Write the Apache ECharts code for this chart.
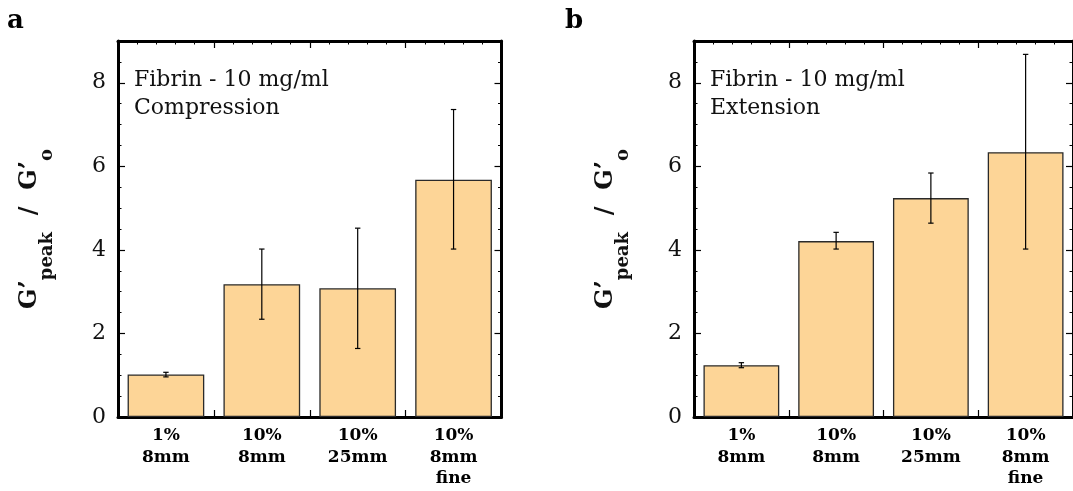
<!DOCTYPE html>
<html>
<head>
<meta charset="utf-8">
<script src="https://cdn.jsdelivr.net/npm/echarts@6/dist/echarts.min.js"></script>
<style>
html,body{margin:0;padding:0;background:#fff;}
#chart{width:1073px;height:491px;}
</style>
</head>
<body>
<div id="chart"></div>
<script>
// ---- data ----
const categories = ['1%\n8mm', '10%\n8mm', '10%\n25mm', '10%\n8mm\nfine'];
const compressionMean = [1.02, 3.18, 3.08, 5.68];
const compressionLow  = [0.96, 2.34, 1.64, 4.02];
const compressionHigh = [1.07, 4.02, 4.52, 7.36];
const extensionMean = [1.24, 4.21, 5.24, 6.34];
const extensionLow  = [1.18, 4.02, 4.64, 4.02];
const extensionHigh = [1.30, 4.42, 5.84, 8.68];
const yMajorTicks = [0, 2, 4, 6, 8];
const panelLetters = ['a', 'b'];
const panelTitles = ['Fibrin - 10 mg/ml\nCompression', 'Fibrin - 10 mg/ml\nExtension'];

const SERIF = 'DejaVu Serif';
const chart = echarts.init(document.getElementById('chart'), null, {renderer: 'canvas'});

const grids = [
  {left: 118, top: 41, width: 383.5, height: 376},
  {left: 694, top: 41, width: 383.5, height: 376}
];

const xAxes = [], yAxes = [], series = [];

function addPanel(g, mean, low, high) {
  const xb = g * 3, yb = g * 4;
  xAxes.push({
    gridIndex: g, type: 'category', data: categories, position: 'bottom',
    axisLine: {show: false, onZero: false}, axisTick: {show: false}, splitLine: {show: false},
    axisLabel: {fontFamily: SERIF, fontWeight: 'bold', fontSize: 17, lineHeight: 21.5, color: '#000', margin: 8}
  });
  ['bottom', 'top'].forEach(pos => xAxes.push({
    gridIndex: g, type: 'value', min: 0, max: 4, interval: 1, position: pos,
    axisLine: {show: true, onZero: false, lineStyle: {color: '#000', width: 3}},
    axisTick: {show: true, inside: true, length: 7, lineStyle: {color: '#000', width: 1.2}},
    minorTick: {show: true, splitNumber: 5, length: 3.5, lineStyle: {color: '#000', width: 1}},
    axisLabel: {show: false}, splitLine: {show: false}, minorSplitLine: {show: false}
  }));
  ['left', 'right'].forEach(pos => {
    yAxes.push({
      gridIndex: g, type: 'value', min: 0, max: 9, interval: 2, position: pos,
      axisLine: {show: true, onZero: false, lineStyle: {color: '#000', width: 3}},
      axisTick: {show: true, inside: true, length: 7, lineStyle: {color: '#000', width: 1.2}},
      axisLabel: {show: pos === 'left', fontFamily: SERIF, fontSize: 22, color: '#111', margin: 12,
        formatter: v => yMajorTicks.indexOf(v) >= 0 ? String(v) : ''},
      splitLine: {show: false},
      name: pos === 'left' ? '{g|G’}{s|peak}{g|  /  G’}{s|o}' : '',
      nameLocation: 'middle', nameGap: 62, nameRotate: 90,
      nameTextStyle: {
        rich: {
          g: {fontFamily: SERIF, fontWeight: 'bold', fontSize: 24, color: '#111', lineHeight: 25, verticalAlign: 'top'},
          s: {fontFamily: SERIF, fontWeight: 'bold', fontSize: 18, color: '#111', lineHeight: 38, verticalAlign: 'bottom'}
        }
      }
    });
    yAxes.push({
      gridIndex: g, type: 'value', min: 0, max: 9, interval: 0.5, position: pos,
      axisLine: {show: false, onZero: false},
      axisTick: {show: true, inside: true, length: 3.5, lineStyle: {color: '#000', width: 1}},
      axisLabel: {show: false}, splitLine: {show: false}
    });
  });
  series.push({
    type: 'bar', xAxisIndex: xb, yAxisIndex: yb, data: mean, barWidth: '80%',
    itemStyle: {color: '#FDD597', borderColor: '#2a2a2a', borderWidth: 1.3},
    z: 2
  });
  series.push({
    type: 'custom', xAxisIndex: xb, yAxisIndex: yb, z: 3,
    data: mean.map((m, i) => [i, low[i], high[i]]),
    renderItem: function (params, api) {
      const lo = api.coord([api.value(0), api.value(1)]);
      const hi = api.coord([api.value(0), api.value(2)]);
      const cw = 2.7;
      const st = {stroke: '#000', lineWidth: 1.2};
      return {type: 'group', children: [
        {type: 'line', shape: {x1: lo[0], y1: lo[1], x2: hi[0], y2: hi[1]}, style: st},
        {type: 'line', shape: {x1: lo[0] - cw, y1: lo[1], x2: lo[0] + cw, y2: lo[1]}, style: st},
        {type: 'line', shape: {x1: hi[0] - cw, y1: hi[1], x2: hi[0] + cw, y2: hi[1]}, style: st}
      ]};
    }
  });
}

addPanel(0, compressionMean, compressionLow, compressionHigh);
addPanel(1, extensionMean, extensionLow, extensionHigh);

const graphic = [];
[0, 1].forEach(g => {
  graphic.push({type: 'text', left: g === 0 ? 7 : 565, top: 8,
    style: {text: panelLetters[g], font: 'bold 26px "' + SERIF + '"', fill: '#000'}});
  graphic.push({type: 'text', left: grids[g].left + 16, top: 66,
    style: {text: panelTitles[g], font: '22px "' + SERIF + '"', lineHeight: 28, fill: '#111'}});
});

chart.setOption({
  animation: false,
  backgroundColor: '#fff',
  grid: grids,
  xAxis: xAxes,
  yAxis: yAxes,
  series: series,
  graphic: graphic
});
</script>
</body>
</html>
